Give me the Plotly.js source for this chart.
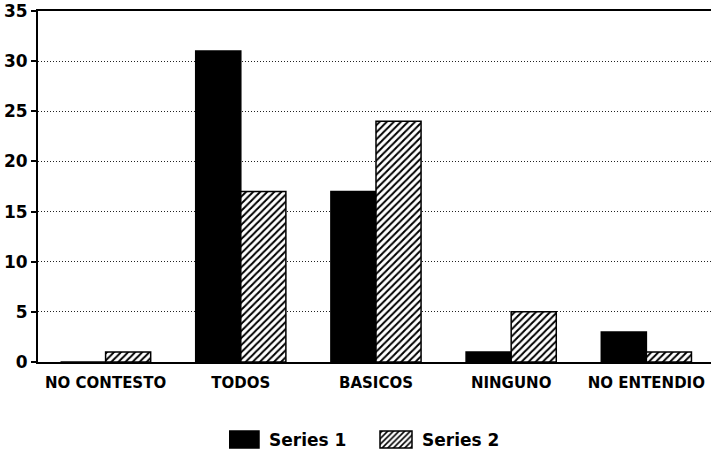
<!DOCTYPE html>
<html>
<head>
<meta charset="utf-8">
<script src="https://cdn.plot.ly/plotly-3.0.1.min.js"></script>
<style>
  html, body { margin: 0; padding: 0; background: #ffffff; }
  #chart { width: 711px; height: 459px; }
</style>
</head>
<body>
<div id="chart"></div>
<script>
// Categories and the two series of answers
const categories = ['NO CONTESTO', 'TODOS', 'BASICOS', 'NINGUNO', 'NO ENTENDIO'];
const series1 = [0, 31, 17, 1, 3];
const series2 = [1, 17, 24, 5, 1];
const yTicks = [0, 5, 10, 15, 20, 25, 30, 35];

const labelFont = { family: 'DejaVu Sans', size: 15, color: '#000', weight: 'bold' };

const traces = [
  {
    type: 'bar',
    name: 'Series 1',
    x: categories,
    y: series1,
    marker: { color: '#000000', line: { color: '#000000', width: 1.5 } }
  },
  {
    type: 'bar',
    name: 'Series 2',
    x: categories,
    y: series2,
    marker: {
      color: '#ffffff',
      line: { color: '#000000', width: 1.5 },
      pattern: { shape: '/', fgcolor: '#000000', bgcolor: '#ffffff', size: 5, solidity: 0.4 }
    }
  }
];

const layout = {
  width: 711,
  height: 459,
  margin: { l: 38, r: 0, t: 11, b: 97 },
  paper_bgcolor: '#ffffff',
  plot_bgcolor: '#ffffff',
  barmode: 'group',
  bargap: 0.333,
  bargroupgap: 0,
  showlegend: true,
  legend: {
    orientation: 'h',
    x: 0.2838,
    xanchor: 'left',
    y: -0.222,
    yanchor: 'middle',
    font: { family: 'DejaVu Sans', size: 17, color: '#000', weight: 'bold' },
    entrywidthmode: 'pixels',
    entrywidth: 108,
    itemgap: 0
  },
  xaxis: {
    range: [-0.5, 4.478],
    showgrid: false,
    showline: true,
    mirror: true,
    linecolor: '#000',
    linewidth: 2,
    ticks: 'outside',
    ticklen: 6,
    tickcolor: 'rgba(0,0,0,0)',
    tickfont: labelFont,
    zeroline: false
  },
  yaxis: {
    range: [0, 35],
    tickvals: yTicks,
    ticktext: yTicks.map(String),
    showline: true,
    linecolor: '#000',
    linewidth: 2,
    ticks: 'outside',
    ticklen: 5,
    tickwidth: 2,
    tickcolor: '#000',
    tickfont: { family: 'DejaVu Sans', size: 17, color: '#000', weight: 'bold' },
    showgrid: true,
    gridcolor: '#222',
    gridwidth: 1,
    griddash: '1px,2px',
    zeroline: false
  }
};

// Wider legend swatches, with a small gap before the entry text
function widenSwatches() {
  document.querySelectorAll('#chart g.legendpoints path').forEach(function (p) {
    p.setAttribute('d', 'M10,8.5H-22V-8.5H10Z');
  });
}

const gd = document.getElementById('chart');
Plotly.newPlot(gd, traces, layout, { displayModeBar: false, staticPlot: true }).then(function () {
  widenSwatches();
  gd.on('plotly_afterplot', widenSwatches);
  setTimeout(widenSwatches, 50);
});
</script>
</body>
</html>
